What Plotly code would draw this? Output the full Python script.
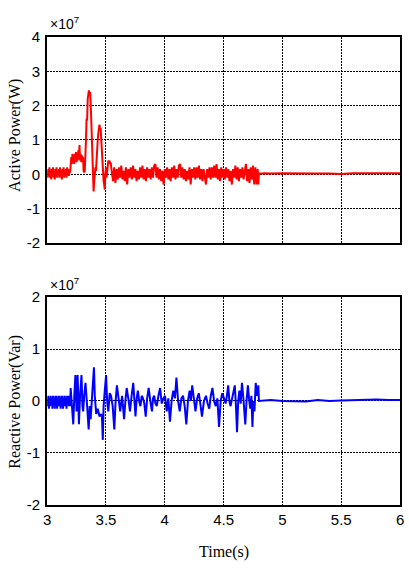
import numpy as np
import plotly.graph_objects as go

W, H = 409, 571

# ---------------- data (units of 1e7) ----------------
# Active power, dense part sampled every 5 ms from 3.000 s
active_dense = [
    0.1, -0.1, 0.15, -0.05, 0.2, -0.1, 0.1, -0.15, 0.15, 0.0, 0.2, -0.1, 0.05, -0.15, 0.15, -0.05, 0.2, -0.1, 0.1, -0.05,
    0.15, -0.1, 0.2, -0.05, 0.1, -0.15, 0.15, 0.0, 0.2, -0.1, 0.1, -0.05, 0.15, -0.1, 0.2, 0.0, 0.1, -0.05, 0.15, 0.05,
    0.25, 0.5, 0.3, 0.6, 0.35, 0.55, 0.3, 0.6, 0.4, 0.65, 0.35, 0.55, 0.4, 0.7, 0.45, 0.85, 0.4, 0.6, 0.35, 0.55, 0.4,
    0.5, 0.1, 0.05, 0.1, 0.4, 1.0, 1.6, 1.6, 2.2, 2.3, 2.45, 2.3, 2.4, 2.1, 1.5, 0.8, 0.1, -0.3, -0.5, -0.2,
    0.1, 0.2, 0.1, 0.6, 0.9, 1.0, 1.2, 1.3, 1.45, 1.3, 1.35, 1.0, 0.6, 0.2, 0.1, -0.2, -0.3, -0.45, 0.0, 0.2,
    -0.1, 0.15, 0.3, 0.4, 0.35, 0.4, 0.3, 0.35, 0.2, 0.1,
]
# Active power, sampled every 10 ms from 3.56 s
active_mid = [
    -0.2, 0.2, -0.25, 0.15, -0.15, 0.2, -0.1, 0.25, -0.15, 0.1,
    -0.2, 0.2, -0.3, 0.15, -0.1, 0.2, -0.15, 0.25, -0.1, 0.15,
    -0.2, 0.1, -0.15, 0.2, -0.1, 0.25, -0.15, 0.15, -0.2, 0.2,
    -0.1, 0.15, -0.15, 0.2, -0.1, 0.25, 0.3, -0.1, 0.2, -0.15,
    0.15, -0.2, 0.1, -0.3, 0.15, -0.1, 0.2, -0.15, 0.15, -0.2,
    0.2, -0.1, 0.25, -0.15, 0.15, -0.1, 0.25, 0.3, -0.1, 0.2,
    -0.15, 0.15, -0.2, 0.1, -0.15, 0.2, -0.3, 0.15, -0.1, 0.2,
    -0.15, 0.2, -0.1, 0.25, -0.15, 0.15, -0.2, 0.15, -0.1, -0.3,
    0.15, -0.1, 0.2, -0.15, 0.2, -0.1, 0.25, -0.1, 0.3, -0.15,
    0.15, -0.2, 0.2, -0.1, 0.15, -0.15, 0.2, -0.1, 0.15, -0.2,
    0.1, -0.3, 0.15, -0.1, 0.25, -0.15, 0.2, -0.2, 0.15, -0.1,
    0.2, -0.15, 0.1, 0.3, -0.2, 0.15, -0.25, 0.2, -0.15, 0.25,
    -0.3, 0.2, -0.3, 0.15,
]
active_tail_t = [4.795, 4.80, 4.85, 4.9, 5.0, 5.1, 5.2, 5.3, 5.4, 5.5, 5.6, 5.7, 5.8, 5.9, 6.0]
active_tail_v = [-0.3, 0.02, 0.03, 0.02, 0.03, 0.02, 0.03, 0.02, 0.02, 0.01, 0.03, 0.03, 0.03, 0.03, 0.03]

# Reactive power, dense start sampled every 5 ms from 3.000 s
reactive_dense = [
    0.05, -0.1, 0.1, -0.15, 0.05, -0.1, 0.1, -0.05, 0.05, -0.15, 0.1, -0.1, 0.05, -0.15, 0.1, -0.05, 0.1, -0.15, 0.05, -0.1,
    0.1, -0.1, 0.05, -0.15, 0.1, -0.05, 0.1, -0.15, 0.05, -0.1, 0.1, -0.1, 0.05, -0.15, 0.1, -0.05, 0.1, -0.1, 0.05, -0.1,
]
reactive_t = [
    3.200, 3.210, 3.222, 3.231, 3.240, 3.250, 3.259, 3.265, 3.270, 3.280, 3.292, 3.300, 3.306, 3.315, 3.326, 3.340,
    3.353, 3.362, 3.370, 3.385, 3.398, 3.405, 3.417, 3.430, 3.445, 3.459, 3.466, 3.473, 3.480, 3.490, 3.501, 3.510,
    3.520, 3.532, 3.543, 3.557, 3.571, 3.582, 3.593, 3.607, 3.621, 3.637, 3.654, 3.665, 3.676, 3.690, 3.704, 3.718,
    3.732, 3.742, 3.751, 3.761, 3.771, 3.782, 3.793, 3.804, 3.815, 3.826, 3.838, 3.850, 3.863, 3.877, 3.891, 3.900,
    3.910, 3.921, 3.932, 3.946, 3.960, 3.974, 3.988, 4.002, 4.016, 4.030, 4.044, 4.058, 4.072, 4.086, 4.099, 4.113,
    4.127, 4.141, 4.155, 4.169, 4.183, 4.197, 4.211, 4.222, 4.233, 4.247, 4.261, 4.275, 4.289, 4.302, 4.316, 4.333,
    4.350, 4.364, 4.378, 4.391, 4.405, 4.419, 4.433, 4.447, 4.461, 4.475, 4.489, 4.503, 4.517, 4.528, 4.539, 4.549,
    4.559, 4.577, 4.595, 4.605, 4.614, 4.624, 4.634, 4.645, 4.656, 4.670, 4.684, 4.695, 4.706, 4.716, 4.726, 4.736,
    4.745, 4.753, 4.762, 4.768, 4.773, 4.784, 4.795,
]
reactive_v = [
    0.25, -0.1, -0.45, 0.1, 0.5, -0.2, 0.5, 0.05, -0.45, 0.1, 0.5, -0.1, -0.2, 0.1, 0.35, -0.1,
    -0.55, -0.1, -0.35, 0.2, 0.65, 0.1, -0.25, -0.15, -0.3, -0.25, -0.3, -0.75, -0.1, 0.2, 0.5, 0.0,
    -0.2, 0.15, 0.1, -0.1, -0.55, 0.0, 0.3, 0.05, -0.2, 0.1, -0.35, 0.0, 0.25, 0.05, -0.2, 0.1,
    0.35, 0.0, -0.3, 0.05, 0.2, 0.0, -0.1, 0.1, 0.05, -0.05, -0.3, 0.05, 0.25, 0.0, -0.2, 0.05,
    0.1, -0.05, -0.1, 0.1, 0.25, -0.05, 0.05, 0.1, -0.2, 0.05, -0.4, 0.0, 0.2, 0.05, 0.45, 0.0,
    -0.2, 0.05, 0.1, -0.1, -0.45, 0.0, 0.2, 0.0, 0.3, 0.05, -0.2, 0.05, 0.15, -0.05, -0.3, 0.0,
    0.1, -0.05, -0.15, 0.1, 0.25, 0.0, -0.1, 0.05, -0.5, 0.0, 0.15, 0.05, -0.05, 0.1, 0.3, 0.0,
    -0.1, 0.1, 0.3, -0.1, -0.6, 0.0, 0.2, -0.05, 0.35, 0.0, -0.45, 0.0, 0.3, 0.05, -0.15, 0.1,
    -0.5, 0.0, -0.2, 0.1, 0.35, 0.1, 0.3,
]
reactive_tail_t = [4.80, 4.85, 4.9, 5.0, 5.1, 5.2, 5.3, 5.4, 5.5, 5.6, 5.7, 5.8, 5.9, 6.0]
reactive_tail_v = [0.0, 0.01, 0.02, 0.0, 0.0, -0.01, 0.02, 0.0, 0.01, 0.02, 0.03, 0.03, 0.02, 0.02]

x_ticks = [3, 3.5, 4, 4.5, 5, 5.5, 6]
x_tick_text = ["3", "3.5", "4", "4.5", "5", "5.5", "6"]
active_ticks = [-2, -1, 0, 1, 2, 3, 4]
active_tick_text = ["-2", "-1", "0", "1", "2", "3", "4"]
reactive_ticks = [-2, -1, 0, 1, 2]
reactive_tick_text = ["-2", "-1", "0", "1", "2"]

# ---------------- assemble ----------------
t_a = list(np.round(3.0 + 0.005 * np.arange(len(active_dense)), 4)) \
    + list(np.round(3.56 + 0.01 * np.arange(len(active_mid)), 4)) + active_tail_t
v_a = active_dense + active_mid + active_tail_v

t_r = list(np.round(3.0 + 0.005 * np.arange(len(reactive_dense)), 4)) + reactive_t + reactive_tail_t
v_r = reactive_dense + reactive_v + reactive_tail_v

fig = go.Figure()
fig.add_trace(go.Scatter(x=t_a, y=v_a, mode="lines", line=dict(color="#ff0000", width=2),
                         xaxis="x", yaxis="y", showlegend=False))
fig.add_trace(go.Scatter(x=t_r, y=v_r, mode="lines", line=dict(color="#0000ff", width=2),
                         xaxis="x2", yaxis="y2", showlegend=False))

xl, xr = 44 / W, 404 / W
def py(p):
    return 1 - p / H

tick_font = dict(family="Liberation Sans, Arial, sans-serif", size=15, color="black")
axis_common = dict(showline=True, mirror=True, linecolor="black", linewidth=2,
                   showgrid=True, gridcolor="black", gridwidth=1, griddash="2px,1px",
                   zeroline=False, ticks="", tickfont=tick_font)

fig.update_layout(
    width=W, height=H, margin=dict(l=0, r=0, t=0, b=0),
    paper_bgcolor="white", plot_bgcolor="white", dragmode=False,
    xaxis=dict(domain=[xl, xr], range=[3, 6], tickvals=x_ticks, showticklabels=False,
               anchor="y", **axis_common),
    yaxis=dict(domain=[py(241), py(29)], range=[-2, 4], tickvals=active_ticks, ticktext=active_tick_text,
               anchor="x", ticklabelstandoff=2, **axis_common),
    xaxis2=dict(domain=[xl, xr], range=[3, 6], tickvals=x_ticks, ticktext=x_tick_text,
                anchor="y2", ticklabelstandoff=0, **axis_common),
    yaxis2=dict(domain=[py(511), py(297)], range=[-2, 2], tickvals=reactive_ticks, ticktext=reactive_tick_text,
                anchor="x2", ticklabelstandoff=2, **axis_common),
)

serif = dict(family="Liberation Serif, Times New Roman, serif", size=16, color="black")
sans = dict(family="Liberation Sans, Arial, sans-serif", size=14, color="black")
ann = [
    dict(text="×10<sup>7</sup>", x=46 / W, y=py(14), xanchor="left", yanchor="middle", font=sans),
    dict(text="×10<sup>7</sup>", x=46 / W, y=py(283), xanchor="left", yanchor="middle", font=sans),
    dict(text="Active Power(W)", x=11 / W, y=py(130), textangle=-90, xanchor="center", yanchor="middle", font=serif),
    dict(text="Reactive Power(Var)", x=11 / W, y=py(405), textangle=-90, xanchor="center", yanchor="middle", font=serif),
    dict(text="Time(s)", x=224 / W, y=py(560), xanchor="center", yanchor="middle", font=serif),
]
for a in ann:
    a.update(xref="paper", yref="paper", showarrow=False, borderpad=0)
fig.update_layout(annotations=ann)

fig.write_html(
    "out.html",
    config={"staticPlot": True},
    post_script=("document.documentElement.style.margin='0';document.body.style.margin='0';"
                 "document.documentElement.style.overflow='hidden';document.body.style.overflow='hidden';"),
)
